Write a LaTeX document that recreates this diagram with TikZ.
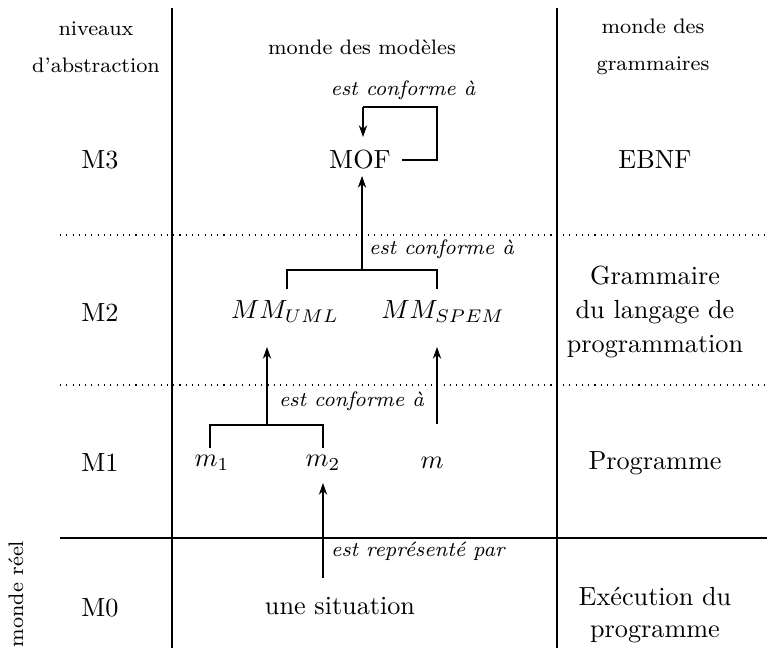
\documentclass[tikz,border=0pt]{standalone}
\usetikzlibrary{arrows.meta}
\begin{document}
\begin{tikzpicture}[x=0.38168pt,y=-0.38168pt,
  txt/.style={inner sep=0pt,font=\normalsize},
  hdr/.style={inner sep=0pt,font=\footnotesize,align=center},
  lbl/.style={inner sep=1pt,font=\footnotesize\itshape},
  conn/.style={line width=0.4pt},
  arr/.style={line width=0.4pt,-{Stealth[length=4.5pt,width=3.2pt]}},
  sep/.style={line width=0.4pt}]
\useasboundingbox (0,0) rectangle (767,655);
% grid lines
\draw[sep] (172,8) -- (172,648);
\draw[sep] (557,8) -- (557,648);
\draw[sep] (60,538) -- (767,538);
\draw[dotted] (60,235) -- (767,235);
\draw[dotted] (60,385) -- (767,385);
% headers
\node[hdr] (h1) at (96,47) {niveaux\\[4.5pt]d'abstraction};
\node[hdr] (h2) at (362,47) {monde des modèles};
\node[hdr] (h3) at (653,47) {monde des\\[4.5pt]grammaires};
\node[hdr,rotate=90] (reel) at (16,594) {monde réel};
% levels
\node[txt] (M3) at (100,160) {M3};
\node[txt] (M2) at (100,313) {M2};
\node[txt] (M1) at (100,463) {M1};
\node[txt] (M0) at (100,608) {M0};
% grammars
\node[txt] (ebnf) at (655,160) {EBNF};
\node[txt,align=center] (gram) at (655,312) {Grammaire\\[1pt]du langage de\\[1pt]programmation};
\node[txt,align=center] (exec) at (655,615) {Exécution du\\programme};
\node[txt] (prog) at (655,463) {Programme};
% models
\node[txt] (mof) at (360,160) {MOF};
\node[txt] (mmuml) at (285,312) {$MM_{UML}$};
\node[txt] (mmspem) at (443,312) {$MM_{SPEM}$};
\node[txt] (m1) at (212,463) {$m_1$};
\node[txt] (m2) at (323,463) {$m_2$};
\node[txt] (m) at (432,463) {$m$};
\node[txt] (sit) at (340,606) {une situation};
% MOF self loop
\coordinate (l1) at (437,160);
\coordinate (l2) at (437,107);
\coordinate (l3) at (363,107);
\coordinate (l4) at (363,137);
\draw[conn] ([xshift=4pt]mof.east) -- (l1) -- (l2) -- (l3);
\draw[arr] (l3) -- (l4);
\node[lbl] (c3) at (403,90) {est conforme à};
% MM -> MOF
\coordinate (b2) at (362,270);
\coordinate (b2l) at (287,270);
\coordinate (b2r) at (437,270);
\coordinate (b2lt) at (287,289);
\coordinate (b2rt) at (437,289);
\coordinate (mofb) at (362,176);
\draw[conn] (b2lt) -- (b2l) -- (b2r) -- (b2rt);
\draw[arr] (b2) -- (mofb);
\node[lbl,anchor=west] (c2) at (366,249) {est conforme à};
% m1,m2 -> MMUML
\coordinate (b1) at (267,425);
\coordinate (b1l) at (210,425);
\coordinate (b1r) at (323,425);
\coordinate (b1lt) at (210,448);
\coordinate (b1rt) at (323,448);
\coordinate (umlb) at (267,347);
\draw[conn] (b1lt) -- (b1l) -- (b1r) -- (b1rt);
\draw[arr] (b1) -- (umlb);
\node[lbl,anchor=west] (c1) at (276,401) {est conforme à};
% m -> MMSPEM
\coordinate (mt) at (437,424);
\coordinate (spemb) at (437,347);
\draw[arr] (mt) -- (spemb);
% situation -> m2
\coordinate (st) at (323,578);
\coordinate (m2b) at (323,483);
\draw[arr] (st) -- (m2b);
\node[lbl,anchor=west] (c0) at (328,551) {est représenté par};
\end{tikzpicture}
\end{document}
